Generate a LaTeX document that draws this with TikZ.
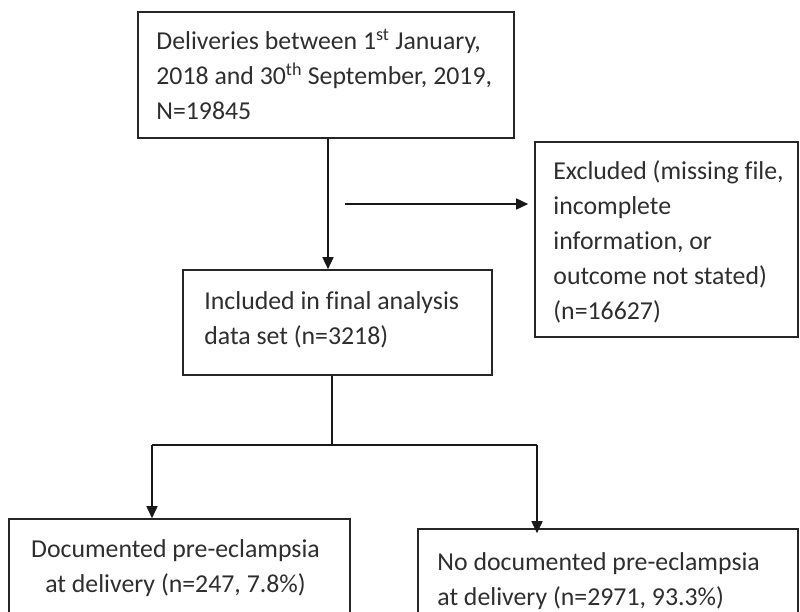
\documentclass[tikz,border=0pt]{standalone}
\usepackage{fontspec}
\setmainfont{Carlito}[Ligatures=NoCommon]
\usetikzlibrary{arrows.meta,calc}
\begin{document}
\begin{tikzpicture}[x=1pt,y=-1pt,
  box/.style={draw=black!85,line width=1.6pt,rectangle,inner sep=0pt},
  txt/.style={anchor=west,align=left,inner sep=0pt,text=black!82,font=\fontsize{25.8}{35}\selectfont},
  ctxt/.style={align=center,inner sep=0pt,text=black!82,font=\fontsize{25.8}{35}\selectfont},
  conn/.style={draw=black!90,line width=1.6pt},
  arr/.style={conn,-{Triangle[length=12pt,width=11pt]}}]
\useasboundingbox (0,0) rectangle (800,611);
\clip (0,0) rectangle (800,611);
% boxes
\node[box,minimum width=376pt,minimum height=126pt] (top) at (326,75) {};
\node[txt] (toptxt) at ([xshift=19pt,yshift=1pt]top.west) {Deliveries between 1\textsuperscript{st} January,\\2018 and 30\textsuperscript{th} September, 2019,\\N=19845};
\node[box,minimum width=309pt,minimum height=105pt] (inc) at (337.5,322.5) {};
\node[txt] (inctxt) at ([xshift=22pt,yshift=3pt]inc.west) {Included in final analysis\\data set (n=3218)};
\node[box,minimum width=263pt,minimum height=195pt] (exc) at (666.5,239.5) {};
\node[txt] (exctxt) at ([xshift=19pt,yshift=-2pt]exc.west) {Excluded (missing file,\\incomplete\\information, or\\outcome not stated)\\(n=16627)};
\node[box,minimum width=341pt,minimum height=121pt] (pe) at (179.5,579.5) {};
\node[ctxt] (petxt) at ([xshift=-4pt,yshift=11pt]pe.center) {Documented pre-eclampsia\\at delivery (n=247, 7.8\%)};
\node[box,minimum width=380pt,minimum height=111pt] (npe) at (608,584.5) {};
\node[txt] (npetxt) at ([xshift=20pt,yshift=3pt]npe.west) {No documented pre-eclampsia\\at delivery (n=2971, 93.3\%)};
% connectors
\coordinate (vx) at (328,138);
\draw[arr] (vx) -- (vx |- inc.north);
\coordinate (hs) at (345,204);
\draw[arr] (hs) -- ([xshift=-6pt]exc.west |- hs);
\coordinate (br) at (332,445);
\draw[conn] (inc.south -| br) -- (br);
\coordinate (bl) at (152,445);
\coordinate (bR) at (537,445);
\draw[conn] (bl) -- (bR);
\draw[arr] (bl) -- (bl |- pe.north);
\draw[arr] (bR) -- ([yshift=-5pt]bR |- npe.north);
\end{tikzpicture}
\end{document}
